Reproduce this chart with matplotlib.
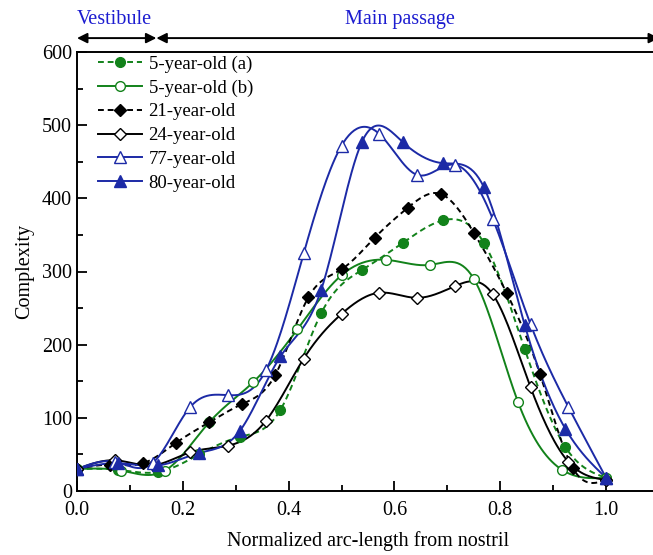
import numpy as np
import matplotlib
matplotlib.use("Agg")
import matplotlib.pyplot as plt

plt.rcParams['font.family'] = ['Liberation Serif', 'DejaVu Serif']
plt.rcParams['mathtext.fontset'] = 'stix'

# marker positions
x13 = np.arange(14) / 13.0
x12 = np.arange(13) / 12.0
x16 = np.arange(17) / 16.0
x14 = np.arange(15) / 14.0

y_5a = [30, 29, 26, 50, 74, 111, 243, 302, 339, 370, 339, 194, 60, 18]
y_5b = [30, 28, 28, 94, 149, 221, 295, 316, 309, 290, 122, 29, 18]
y_21 = [30, 36, 38, 66, 94, 119, 159, 265, 303, 346, 387, 406, 353, 270, 160, 31, 15]
y_24 = [30, 42, 35, 53, 62, 96, 181, 242, 271, 264, 280, 269, 142, 40, 15]
y_77 = [30, 40, 38, 115, 131, 165, 325, 472, 488, 432, 446, 372, 228, 115, 18]
y_80 = [30, 38, 35, 52, 82, 184, 275, 477, 477, 448, 415, 227, 85, 18]

green = '#12821a'
blue = '#1c2aa6'


def spline(x, y, n=400):
    # natural cubic spline through the points
    x = np.asarray(x, float)
    y = np.asarray(y, float)
    m = len(x)
    h = np.diff(x)
    A = np.zeros((m, m))
    r = np.zeros(m)
    A[0, 0] = 1
    A[-1, -1] = 1
    for i in range(1, m - 1):
        A[i, i - 1] = h[i - 1]
        A[i, i] = 2 * (h[i - 1] + h[i])
        A[i, i + 1] = h[i]
        r[i] = 3 * ((y[i + 1] - y[i]) / h[i] - (y[i] - y[i - 1]) / h[i - 1])
    c = np.linalg.solve(A, r)
    b = (y[1:] - y[:-1]) / h - h * (2 * c[:-1] + c[1:]) / 3
    d = (c[1:] - c[:-1]) / (3 * h)
    xs = np.linspace(x[0], x[-1], n)
    k = np.clip(np.searchsorted(x, xs) - 1, 0, m - 2)
    t = xs - x[k]
    ys = y[k] + b[k] * t + c[k] * t ** 2 + d[k] * t ** 3
    return xs, ys


series = [
    (x13, y_5a, green, (0, (3, 2)), 'o', green, '5-year-old (a)'),
    (x12, y_5b, green, '-', 'o', 'none', '5-year-old (b)'),
    (x16, y_21, 'black', (0, (3, 2)), 'D', 'black', '21-year-old'),
    (x14, y_24, 'black', '-', 'D', 'none', '24-year-old'),
    (x14, y_77, blue, '-', '^', 'none', '77-year-old'),
    (x13, y_80, blue, '-', '^', blue, '80-year-old'),
]

fig = plt.figure(figsize=(6.53, 5.55), dpi=100)
ax = fig.add_axes([77 / 653, 64 / 555, 582 / 653, 439 / 555])

handles = []
for xs, ys, col, ls, mk, mfc, lab in series:
    sx, sy = spline(xs, ys)
    ax.plot(sx, sy, color=col, linestyle=ls, lw=1.4, zorder=2)
    ms = 7 if mk != '^' else 8.5
    if mk == 'D':
        ms = 6.5
    ax.plot(xs, ys, linestyle='none', marker=mk, ms=ms, mfc=mfc if mfc != 'none' else 'white',
            mec=col, mew=1.0, zorder=3)
    h, = ax.plot([], [], color=col, linestyle=ls, lw=1.4, marker=mk, ms=ms,
                 mfc=mfc if mfc != 'none' else 'white', mec=col, mew=1.0, label=lab)
    handles.append(h)

ax.set_xlim(0, 1.1)
ax.set_ylim(0, 600)
ax.set_xticks([0.0, 0.2, 0.4, 0.6, 0.8, 1.0])
ax.set_xticklabels(['0.0', '0.2', '0.4', '0.6', '0.8', '1.0'])
ax.set_xticks(np.arange(0.1, 1.1, 0.2), minor=True)
ax.set_yticks(range(0, 601, 100))
ax.set_yticks(range(50, 600, 100), minor=True)
ax.tick_params(which='both', direction='in', labelsize=14.5, width=1.3)
ax.tick_params(which='major', length=7)
ax.tick_params(which='minor', length=4)
ax.tick_params(axis='x', pad=7)
for s in ax.spines.values():
    s.set_linewidth(1.4)

ax.set_xlabel('Normalized arc-length from nostril', fontsize=14.5, labelpad=8)
ax.set_ylabel('Complexity', fontsize=14.5, labelpad=6)

ax.legend(handles=handles, loc='upper left', frameon=False, fontsize=13.5,
          handlelength=2.35, handletextpad=0.35, labelspacing=0.355,
          borderaxespad=0.2, bbox_to_anchor=(0.0166, 1.018))

# region arrows above the plot
ax.annotate('', xy=(0.0, 619), xytext=(0.15, 619), xycoords='data',
            arrowprops=dict(arrowstyle='<|-|>', color='black', lw=1.4,
                            shrinkA=0, shrinkB=0, mutation_scale=15),
            annotation_clip=False)
ax.annotate('', xy=(0.15, 619), xytext=(1.1, 619), xycoords='data',
            arrowprops=dict(arrowstyle='<|-|>', color='black', lw=1.4,
                            shrinkA=0, shrinkB=0, mutation_scale=15),
            annotation_clip=False)
ax.text(0.07, 645, 'Vestibule', color='#1c1cd0', fontsize=14.5, ha='center',
        va='center', clip_on=False)
ax.text(0.61, 645, 'Main passage', color='#1c1cd0', fontsize=14.5, ha='center',
        va='center', clip_on=False)

fig.savefig('out.png', dpi=100)
